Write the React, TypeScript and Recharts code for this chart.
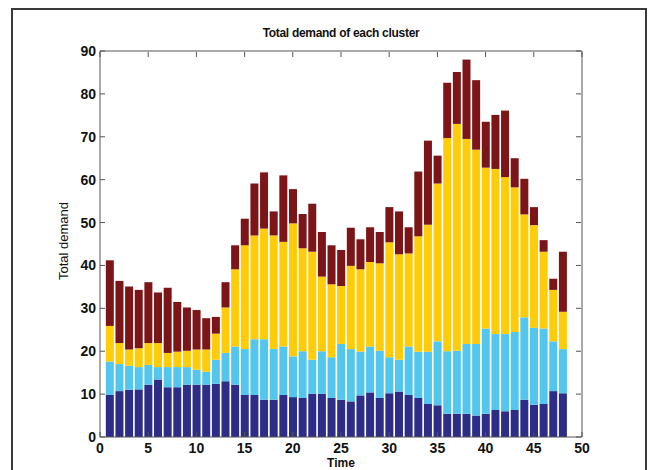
import React from 'react';
import { BarChart, Bar, XAxis, YAxis } from 'recharts';

// demand per cluster for each of the 48 time slots
const timeSlots = Array.from({ length: 48 }, (_, i) => i + 1);
const cluster1 = [9.8, 10.7, 11.0, 11.1, 12.2, 13.4, 11.6, 11.6, 12.2, 12.2, 12.2, 12.4, 13.0, 12.2, 9.8, 9.8, 8.7, 8.7, 9.8, 9.3, 9.1, 10.1, 10.1, 9.1, 8.7, 8.3, 9.7, 10.4, 9.1, 10.2, 10.6, 9.8, 9.1, 7.7, 7.4, 5.4, 5.4, 5.4, 5.0, 5.4, 6.3, 6.0, 6.3, 8.7, 7.5, 7.7, 10.7, 10.2];
const cluster2 = [7.8, 6.3, 5.6, 5.2, 4.6, 2.9, 4.7, 4.7, 4.1, 3.5, 3.0, 5.6, 6.6, 8.9, 10.7, 13.0, 14.1, 11.8, 11.3, 9.5, 10.9, 7.9, 9.9, 9.5, 13.0, 12.2, 10.2, 10.7, 11.0, 8.4, 7.4, 11.3, 10.8, 12.2, 14.9, 14.6, 14.7, 16.3, 16.7, 19.9, 17.7, 18.0, 18.2, 19.2, 18.0, 17.6, 11.6, 10.3];
const cluster3 = [8.3, 4.9, 3.8, 4.4, 5.1, 5.6, 3.3, 3.6, 3.8, 4.7, 5.2, 6.1, 10.6, 18.0, 24.2, 24.2, 25.8, 26.5, 24.4, 31.0, 24.0, 25.2, 17.4, 17.0, 13.5, 19.4, 19.2, 19.7, 20.4, 26.8, 24.6, 21.7, 26.9, 29.6, 36.8, 49.7, 52.9, 47.8, 45.3, 37.5, 38.5, 36.6, 33.7, 24.0, 23.9, 17.9, 12.0, 8.7];
const cluster4 = [15.3, 14.5, 14.7, 13.6, 14.2, 11.8, 15.2, 11.6, 10.1, 9.2, 7.3, 3.9, 5.9, 5.6, 6.2, 12.1, 13.1, 5.6, 15.5, 8.0, 8.0, 11.2, 10.4, 9.1, 8.4, 8.9, 7.0, 8.1, 7.3, 8.2, 10.0, 6.1, 15.1, 19.6, 6.5, 12.9, 12.1, 18.5, 16.2, 10.7, 12.6, 15.5, 6.8, 8.3, 4.2, 2.7, 2.6, 14.0];

const xTicks = [0, 5, 10, 15, 20, 25, 30, 35, 40, 45, 50];
const yTicks = [0, 10, 20, 30, 40, 50, 60, 70, 80, 90];

const series = [
  { key: 'c1', color: '#2d2d88' },
  { key: 'c2', color: '#52c6ec' },
  { key: 'c3', color: '#ffcc0a' },
  { key: 'c4', color: '#7c1517' },
];

const data = timeSlots.map((t, i) => ({
  t,
  c1: cluster1[i],
  c2: cluster2[i],
  c3: cluster3[i],
  c4: cluster4[i],
}));

const AXIS = '#555';
const FONT = 'Arial, "Liberation Sans", Helvetica, sans-serif';
const TICK_LEN = 5;
const LABEL_GAP = 4;

// matlab-style ticks: labels outside, tick marks pointing into the plot
const LeftTick = (props: any) => {
  const { x, y, payload } = props;
  const ax = x + LABEL_GAP;
  return (
    <g>
      <text x={x} y={y} dy={5} textAnchor="end" fontFamily={FONT} fontSize={14} fontWeight="bold" fill="#111">
        {payload.value}
      </text>
      <line x1={ax} x2={ax + TICK_LEN} y1={y} y2={y} stroke={AXIS} />
    </g>
  );
};

const BottomTick = (props: any) => {
  const { x, y, payload } = props;
  const ay = y - LABEL_GAP;
  return (
    <g>
      <text x={x} y={ay + 16} textAnchor="middle" fontFamily={FONT} fontSize={14} fontWeight="bold" fill="#111">
        {payload.value}
      </text>
      <line x1={x} x2={x} y1={ay} y2={ay - TICK_LEN} stroke={AXIS} />
    </g>
  );
};

// top/right axes carry tick marks only; y and x arrive at the axis line
const TopTick = (props: any) => {
  const { x, y } = props;
  return <line x1={x} x2={x} y1={y + 1} y2={y + 1 + TICK_LEN} stroke={AXIS} />;
};

const RightTick = (props: any) => {
  const { x, y } = props;
  return <line x1={x - 1} x2={x - 1 - TICK_LEN} y1={y} y2={y} stroke={AXIS} />;
};

export default function App() {
  return (
    <div style={{ position: 'absolute', left: 0, top: 0, width: 648, height: 470, overflow: 'hidden', background: '#fff' }}>
      <div
        style={{
          position: 'absolute',
          left: 11,
          top: 8,
          width: 632,
          height: 480,
          border: '2px solid #3a3a3a',
        }}
      />
      <BarChart
        width={648}
        height={470}
        data={data}
        margin={{ top: 50, right: 65, bottom: 3, left: 60 }}
        barCategoryGap={0}
        style={{ position: 'absolute', left: 0, top: 0 }}
      >
        <XAxis
          dataKey="t"
          type="number"
          domain={[0, 50]}
          ticks={xTicks}
          allowDataOverflow
          height={30}
          tickSize={0}
          tickMargin={LABEL_GAP}
          tickLine={false}
          stroke={AXIS}
          tick={<BottomTick />}
          interval={0}
        />
        <XAxis
          xAxisId="top"
          orientation="top"
          dataKey="t"
          type="number"
          domain={[0, 50]}
          ticks={xTicks}
          allowDataOverflow
          height={1}
          tickSize={0}
          tickMargin={0}
          tickLine={false}
          stroke={AXIS}
          tick={<TopTick />}
          interval={0}
        />
        <YAxis
          type="number"
          domain={[0, 90]}
          ticks={yTicks}
          allowDataOverflow
          width={40}
          tickSize={0}
          tickMargin={LABEL_GAP}
          tickLine={false}
          stroke={AXIS}
          tick={<LeftTick />}
          interval={0}
        />
        <YAxis
          yAxisId="right"
          orientation="right"
          type="number"
          domain={[0, 90]}
          ticks={yTicks}
          allowDataOverflow
          width={1}
          tickSize={0}
          tickMargin={0}
          tickLine={false}
          stroke={AXIS}
          tick={<RightTick />}
          interval={0}
        />
        {series.map((s) => (
          <Bar key={s.key} dataKey={s.key} stackId="demand" fill={s.color} barSize={8} isAnimationActive={false} />
        ))}
      </BarChart>
      <div
        style={{
          position: 'absolute',
          left: 100,
          width: 482,
          top: 26,
          textAlign: 'center',
          fontFamily: FONT,
          fontSize: 12,
          fontWeight: 'bold',
          lineHeight: '14px',
          color: '#111',
          letterSpacing: -0.3,
        }}
      >
        Total demand of each cluster
      </div>
      <div
        style={{
          position: 'absolute',
          left: 63,
          top: 241,
          transform: 'translate(-50%, -50%) rotate(-90deg)',
          fontFamily: FONT,
          fontSize: 13,
          color: '#111',
          whiteSpace: 'nowrap',
        }}
      >
        Total demand
      </div>
      <div
        style={{
          position: 'absolute',
          left: 100,
          width: 482,
          top: 457,
          textAlign: 'center',
          fontFamily: FONT,
          fontSize: 12,
          fontWeight: 'bold',
          lineHeight: '13px',
          color: '#111',
        }}
      >
        Time
      </div>
    </div>
  );
}
